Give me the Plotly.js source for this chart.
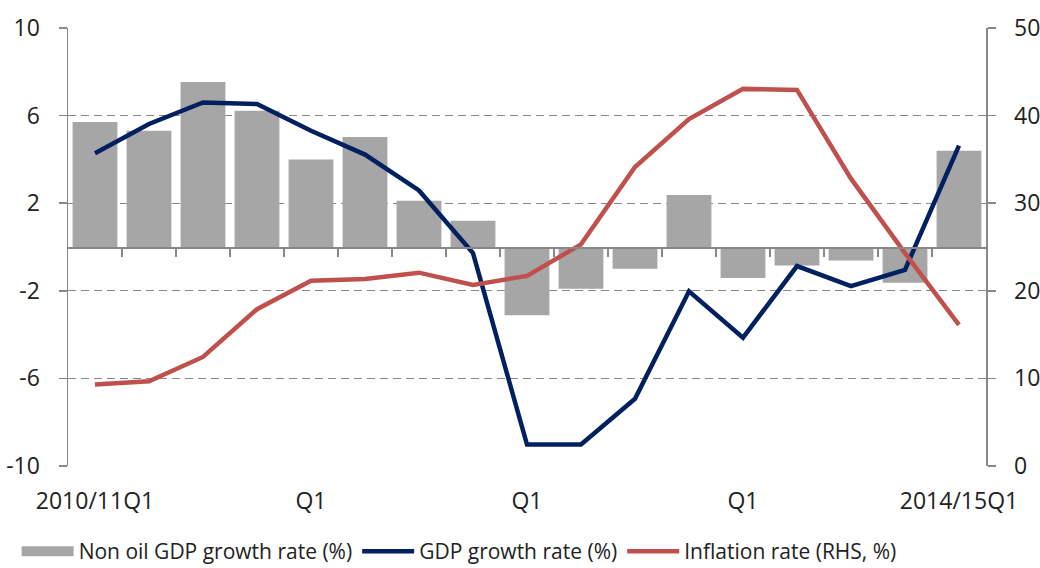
<!DOCTYPE html>
<html>
<head>
<meta charset="utf-8">
<script src="https://cdn.plot.ly/plotly-3.0.1.min.js"></script>
<style>html,body{margin:0;padding:0;background:#fff;}#chart{width:1040px;height:568px;}</style>
</head>
<body>
<div id="chart"></div>
<script>
const categories = ["2010/11Q1","2010/11Q2","2010/11Q3","2010/11Q4",
  "2011/12Q1","2011/12Q2","2011/12Q3","2011/12Q4",
  "2012/13Q1","2012/13Q2","2012/13Q3","2012/13Q4",
  "2013/14Q1","2013/14Q2","2013/14Q3","2013/14Q4",
  "2014/15Q1"];
const tickLabels = ["2010/11Q1","","","","Q1","","","","Q1","","","","Q1","","","","2014/15Q1"];
const leftTicks = [-10,-6,-2,2,6,10];
const leftTickText = ["-10","-6","-2","2","6","10"];
const rightTicks = [0,10,20,30,40,50];
const nonOilGdp = [5.71,5.31,7.53,6.22,4.0,5.02,2.11,1.2,-3.12,-1.91,-0.99,2.38,-1.41,-0.84,-0.62,-1.63,4.39];
const gdpGrowth = [4.28,5.62,6.6,6.53,5.31,4.22,2.58,-0.28,-9.02,-9.02,-6.93,-2.02,-4.14,-0.87,-1.79,-1.04,4.63];
const inflation = [9.3,9.67,12.45,17.9,21.16,21.35,22.07,20.67,21.7,25.3,34.13,39.6,43.05,42.93,32.8,24.3,16.1];

const FONT = "Open Sans, Lato, sans-serif";
const FS = 23;
const tickVals = categories.filter((c,i)=>tickLabels[i]!=="");
const tickText = tickLabels.filter(t=>t!=="");
const boundaries = categories.map((c,i)=>i-0.5).slice(1);

const traces = [
  {type:"bar", name:"Non oil GDP growth rate (%)", x:categories, y:nonOilGdp,
   marker:{color:"#A6A6A6"}, xaxis:"x", yaxis:"y", showlegend:false},
  {type:"scatter", mode:"lines", name:"Non oil GDP growth rate (%)", x:[categories[0]], y:[null],
   line:{color:"#A6A6A6", width:18}, xaxis:"x", yaxis:"y", hoverinfo:"skip"},
  {type:"scatter", mode:"lines", name:"GDP growth rate (%)", x:categories, y:gdpGrowth,
   line:{color:"#002060", width:4.5}, xaxis:"x", yaxis:"y"},
  {type:"scatter", mode:"lines", name:"Inflation rate (RHS, %)", x:categories, y:inflation,
   line:{color:"#C0504D", width:4.5}, xaxis:"x", yaxis:"y2"},
  {type:"scatter", mode:"lines", x:categories.map((c,i)=>i), y:categories.map(()=>null),
   xaxis:"x2", yaxis:"y", showlegend:false, hoverinfo:"skip"}
];

const layout = {
  width:1040, height:568,
  margin:{l:68, r:54, t:28, b:102, autoexpand:false},
  paper_bgcolor:"#fff", plot_bgcolor:"#fff",
  font:{family:FONT, size:FS, color:"#222"},
  bargap:0.17,
  showlegend:true,
  legend:{orientation:"h", xref:"container", yref:"container", x:0.016, y:0.065, yanchor:"top",
          font:{family:FONT, size:21, color:"#222"}, itemwidth:52},
  xaxis:{type:"category", categoryarray:categories, categoryorder:"array",
         tickvals:tickVals, ticktext:tickText, ticks:"outside", ticklen:14, tickcolor:"rgba(0,0,0,0)",
         showline:false, showgrid:false,
         zeroline:false, tickfont:{size:FS}, range:[-0.5, categories.length-0.5], automargin:false},
  xaxis2:{overlaying:"x", anchor:"free", position:0.5, range:[-0.5, categories.length-0.5],
          tickvals:boundaries, ticks:"outside", ticklen:8, tickcolor:"#888", tickwidth:1.5,
          showticklabels:false, showline:true, linecolor:"#888", linewidth:1.5,
          showgrid:false, zeroline:false},
  yaxis:{range:[-10,10], tickvals:leftTicks, ticktext:leftTickText, showgrid:true, gridcolor:"#888",
         griddash:"8px,5px", gridwidth:1.3, zeroline:false, showline:true, linecolor:"#888",
         linewidth:1.5, ticks:"outside", ticklen:8, tickcolor:"#888", tickwidth:1.5,
         ticklabelstandoff:14, tickfont:{size:FS}, automargin:false},
  yaxis2:{range:[0,50], tickvals:rightTicks, overlaying:"y", side:"right", showgrid:false, zeroline:false,
          showline:true, linecolor:"#888", linewidth:1.5, ticks:"outside", ticklen:8,
          tickcolor:"#888", tickwidth:1.5, ticklabelstandoff:14, tickfont:{size:FS}, automargin:false}
};

Plotly.newPlot("chart", traces, layout, {staticPlot:true, displayModeBar:false});
</script>
</body>
</html>
